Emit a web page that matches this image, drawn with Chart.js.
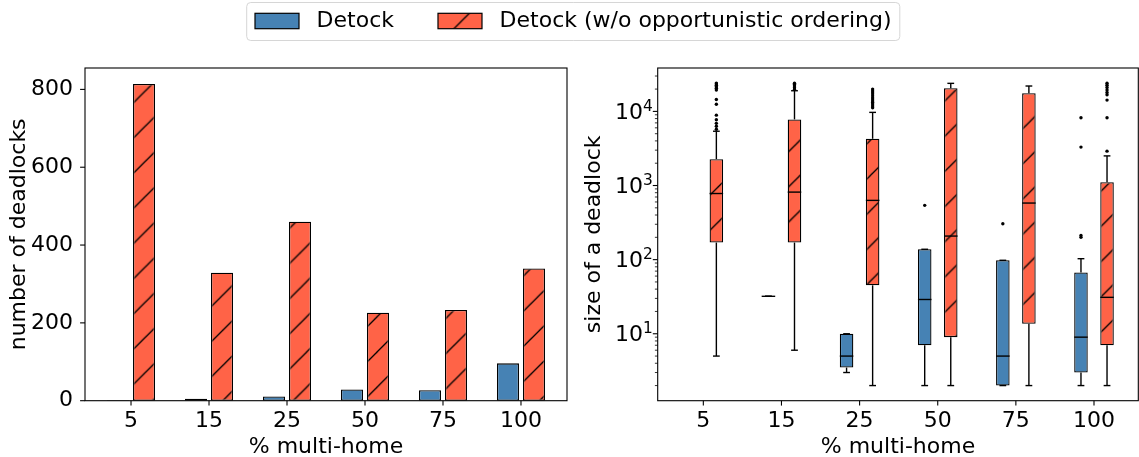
<!DOCTYPE html>
<html>
<head>
<meta charset="utf-8">
<script src="https://cdn.jsdelivr.net/npm/chart.js@4.4.1/dist/chart.umd.min.js"></script>
<style>
  html, body { margin: 0; padding: 0; background: #fff; }
  #wrap { position: relative; width: 1139px; height: 457px; }
  #wrap canvas { position: absolute; left: 0; top: 0; }
</style>
</head>
<body>
<div id="wrap">
  <canvas id="countChart" width="1139" height="457"></canvas>
  <canvas id="sizeChart" width="1139" height="457"></canvas>
</div>
<script>
// ---- data ----
const categories = ['5', '15', '25', '50', '75', '100'];
const seriesNames = ['Detock', 'Detock (w/o opportunistic ordering)'];

// number of deadlocks per % multi-home
const deadlockCounts = [1, 5, 11, 29, 27, 96];
const deadlockCountsNoOrdering = [814, 329, 460, 226, 233, 340];
const countTicks = [0, 200, 400, 600, 800];

// deadlock size distributions: [whisker low, q1, median, q3, whisker high]
const sizeBoxes = [null, [32, 32, 32, 32, 32], [3, 3.5, 5, 10, 10], [2, 7, 29, 138, 138], [2, 2, 5, 98, 98], [2, 3, 9, 67, 103]];
const sizeOutliers = [[], [], [], [540], [305], [200, 212, 3300, 8200]];
const sizeBoxesNoOrdering = [[5, 170, 780, 2270, 5400], [6, 170, 815, 7800, 19000], [2, 45, 630, 4270, 9700], [2, 9, 208, 20600, 23900], [2, 13.6, 580, 17600, 22000], [2, 7, 31, 1110, 2510]];
const sizeOutliersNoOrdering = [
  [5750, 6300, 6900, 7700, 8900, 12500, 14500, 19400, 20500, 21500, 22500, 23500, 24100],
  [19800, 20800, 22000, 23000, 24000],
  [11200, 11800, 12600, 13200, 13800, 14700, 15600, 16600, 17700, 18800, 20000],
  [],
  [],
  [2910, 8200, 14200, 16800, 18000, 19500, 21000, 22500, 24000]
];
const sizeTicks = [10, 100, 1000, 10000];

// ---- styling ----
const BLUE = '#4682B4';
const RED = '#FF6347';
const FONT = "'DejaVu Sans', sans-serif";
const FS = 22;
Chart.defaults.font.family = FONT;
Chart.defaults.font.size = FS;
Chart.defaults.color = '#000';

function makeHatch(color) {
  const s = 35;
  const tile = document.createElement('canvas');
  tile.width = s; tile.height = s;
  const g = tile.getContext('2d');
  g.fillStyle = color;
  g.fillRect(0, 0, s, s);
  g.strokeStyle = '#000';
  g.lineWidth = 1.3;
  g.beginPath();
  for (const k of [0, s, 2 * s]) { g.moveTo(k + 2, -2); g.lineTo(-2, k + 2); }
  g.stroke();
  const p = document.createElement('canvas').getContext('2d').createPattern(tile, 'repeat');
  p.setTransform(new DOMMatrix().translate(25, 0).scale(35.2 / s));
  return p;
}
const RED_HATCH = makeHatch(RED);

function seg(ctx, x1, y1, x2, y2) {
  ctx.beginPath(); ctx.moveTo(x1, y1); ctx.lineTo(x2, y2); ctx.stroke();
}

// spines and outward tick marks
const frameAndTicks = {
  id: 'frameAndTicks',
  afterDraw(chart, args, opts) {
    const { ctx, chartArea: a, scales } = chart;
    ctx.save();
    ctx.strokeStyle = '#000';
    ctx.lineWidth = 1.1;
    categories.forEach((c, i) => {
      const px = scales.x.getPixelForValue(i);
      seg(ctx, px, a.bottom, px, a.bottom + 4.9);
    });
    (opts.majors || []).forEach(v => {
      const py = scales.y.getPixelForValue(v);
      seg(ctx, a.left - 4.9, py, a.left, py);
    });
    ctx.lineWidth = 0.8;
    (opts.minors || []).forEach(v => {
      const py = scales.y.getPixelForValue(v);
      seg(ctx, a.left - 2.8, py, a.left, py);
    });
    ctx.lineWidth = 1.1;
    ctx.strokeRect(a.left, a.top, a.right - a.left, a.bottom - a.top);
    ctx.restore();
  }
};

// shared legend across the top
const legendBox = {
  id: 'legendBox',
  afterDraw(chart) {
    const ctx = chart.ctx;
    const ds = chart.data.datasets;
    ctx.save();
    ctx.font = FS + 'px ' + FONT;
    const handle = 44, handleH = 15.4, gap = 17.6, colSp = 44, pad = 8.8;
    const x0 = 255, cy = 21;
    const widths = ds.map(d => ctx.measureText(d.label).width);
    const total = ds.length * (handle + gap) + widths.reduce((s, w) => s + w, 0) + colSp * (ds.length - 1);
    ctx.beginPath();
    ctx.roundRect(x0 - pad + 0.5, 2.5, total + 2 * pad - 1, 38, 4);
    ctx.fillStyle = '#fff';
    ctx.fill();
    ctx.strokeStyle = '#d6d6d6';
    ctx.lineWidth = 1;
    ctx.stroke();
    let x = x0;
    ds.forEach((d, i) => {
      ctx.fillStyle = d.backgroundColor;
      ctx.fillRect(x, cy - handleH / 2, handle, handleH);
      ctx.strokeStyle = '#000';
      ctx.lineWidth = 1.2;
      ctx.strokeRect(x, cy - handleH / 2, handle, handleH);
      ctx.fillStyle = '#000';
      ctx.textBaseline = 'middle';
      ctx.textAlign = 'left';
      ctx.fillText(d.label, x + handle + gap, cy);
      x += handle + gap + widths[i] + colSp;
    });
    ctx.restore();
  }
};

// whiskers, caps, medians and fliers on top of the floating boxes
const boxWhiskers = {
  id: 'boxWhiskers',
  afterDatasetsDraw(chart) {
    const { ctx, scales: { y } } = chart;
    const py = v => y.getPixelForValue(v);
    ctx.save();
    ctx.strokeStyle = '#000';
    ctx.fillStyle = '#000';
    ctx.lineWidth = 1.4;
    chart.data.datasets.forEach((ds, di) => {
      const meta = chart.getDatasetMeta(di);
      ds.stats.forEach((st, i) => {
        if (!st) return;
        const bar = meta.data[i];
        const cx = bar.x, half = bar.width / 2;
        const [lo, q1, med, q3, hi] = st;
        seg(ctx, cx, py(q1), cx, py(lo));
        seg(ctx, cx, py(q3), cx, py(hi));
        seg(ctx, cx - half / 2, py(lo), cx + half / 2, py(lo));
        seg(ctx, cx - half / 2, py(hi), cx + half / 2, py(hi));
        seg(ctx, cx - half, py(med), cx + half, py(med));
        ds.fliers[i].forEach(v => {
          ctx.beginPath();
          ctx.arc(cx, py(v), 1.7, 0, Math.PI * 2);
          ctx.fill();
        });
      });
    });
    ctx.restore();
  }
};

// 10^n labels for the log axis
const powerLabels = {
  id: 'powerLabels',
  afterDraw(chart) {
    const { ctx, chartArea: a, scales: { y } } = chart;
    ctx.save();
    ctx.fillStyle = '#000';
    ctx.textAlign = 'right';
    ctx.textBaseline = 'alphabetic';
    const right = a.left - 5;
    sizeTicks.forEach(v => {
      const py = y.getPixelForValue(v);
      const exp = String(Math.round(Math.log10(v)));
      ctx.font = (FS * 0.7) + 'px ' + FONT;
      const ew = ctx.measureText(exp).width;
      ctx.fillText(exp, right, py - 0.5);
      ctx.font = FS + 'px ' + FONT;
      ctx.fillText('10', right - ew, py + 7.5);
    });
    ctx.restore();
  }
};

function logMinors(min, max) {
  const out = [];
  for (let e = Math.floor(Math.log10(min)); e <= Math.ceil(Math.log10(max)); e++) {
    for (let m = 2; m <= 9; m++) {
      const v = m * Math.pow(10, e);
      if (v >= min && v <= max) out.push(v);
    }
  }
  return out;
}

const xIndexTicks = s => { s.ticks = categories.map((c, i) => ({ value: i })); };

// ---- left: number of deadlocks ----
new Chart(document.getElementById('countChart'), {
  type: 'bar',
  data: {
    datasets: [
      { label: seriesNames[0], data: deadlockCounts.map((v, i) => ({ x: i, y: v })), backgroundColor: BLUE },
      { label: seriesNames[1], data: deadlockCountsNoOrdering.map((v, i) => ({ x: i, y: v })), backgroundColor: RED_HATCH }
    ]
  },
  options: {
    responsive: false,
    animation: false,
    events: [],
    datasets: { bar: { borderColor: '#000', borderWidth: 1.3, borderSkipped: false, categoryPercentage: 0.667, barPercentage: 0.846 } },
    layout: { padding: { left: 0, top: 68, right: 572, bottom: 0 } },
    plugins: {
      legend: { display: false },
      tooltip: { enabled: false },
      frameAndTicks: { majors: countTicks, minors: [] }
    },
    scales: {
      x: {
        type: 'linear', min: -0.59, max: 5.59, offset: false,
        grid: { display: false, offset: false }, border: { display: false },
        afterBuildTicks: xIndexTicks,
        ticks: { callback: v => categories[v], padding: -1, maxRotation: 0, autoSkip: false, includeBounds: false },
        title: { display: true, text: '% multi-home', padding: { top: 0, bottom: -3 } },
        afterFit: s => { s.height = 56.3; }
      },
      y: {
        type: 'linear', min: 0, max: 855,
        grid: { display: false }, border: { display: false },
        afterBuildTicks: s => { s.ticks = countTicks.map(v => ({ value: v })); },
        ticks: { padding: 4 },
        title: { display: true, text: 'number of deadlocks', padding: { top: 6, bottom: 0 } },
        afterFit: s => { s.width = 85; }
      }
    }
  },
  plugins: [frameAndTicks, legendBox]
});

// ---- right: size of a deadlock (box plot on log scale) ----
const SIZE_MIN = 1.25, SIZE_MAX = 38500;
new Chart(document.getElementById('sizeChart'), {
  type: 'bar',
  data: {
    datasets: [
      {
        label: seriesNames[0], backgroundColor: BLUE,
        data: sizeBoxes.map((b, i) => ({ x: i, y: b ? [b[1], b[3]] : null })),
        stats: sizeBoxes, fliers: sizeOutliers
      },
      {
        label: seriesNames[1], backgroundColor: RED_HATCH,
        data: sizeBoxesNoOrdering.map((b, i) => ({ x: i, y: b ? [b[1], b[3]] : null })),
        stats: sizeBoxesNoOrdering, fliers: sizeOutliersNoOrdering
      }
    ]
  },
  options: {
    responsive: false,
    animation: false,
    events: [],
    datasets: { bar: { borderColor: '#000', borderWidth: 1.3, borderSkipped: false, categoryPercentage: 0.667, barPercentage: 0.52 } },
    layout: { padding: { left: 567.7, top: 68, right: 0.7, bottom: 0 } },
    plugins: {
      legend: { display: false },
      tooltip: { enabled: false },
      frameAndTicks: { majors: sizeTicks, minors: logMinors(SIZE_MIN, SIZE_MAX) }
    },
    scales: {
      x: {
        type: 'linear', min: -0.584, max: 5.567, offset: false,
        grid: { display: false, offset: false }, border: { display: false },
        afterBuildTicks: xIndexTicks,
        ticks: { callback: v => categories[v], padding: -1, maxRotation: 0, autoSkip: false, includeBounds: false },
        title: { display: true, text: '% multi-home', padding: { top: 0, bottom: -3 } },
        afterFit: s => { s.height = 56.3; }
      },
      y: {
        type: 'logarithmic', min: SIZE_MIN, max: SIZE_MAX,
        grid: { display: false }, border: { display: false },
        ticks: { display: false },
        title: { display: true, text: 'size of a deadlock', padding: { top: 13, bottom: 0 } },
        afterFit: s => { s.width = 90; }
      }
    }
  },
  plugins: [frameAndTicks, boxWhiskers, powerLabels]
});
</script>
</body>
</html>
